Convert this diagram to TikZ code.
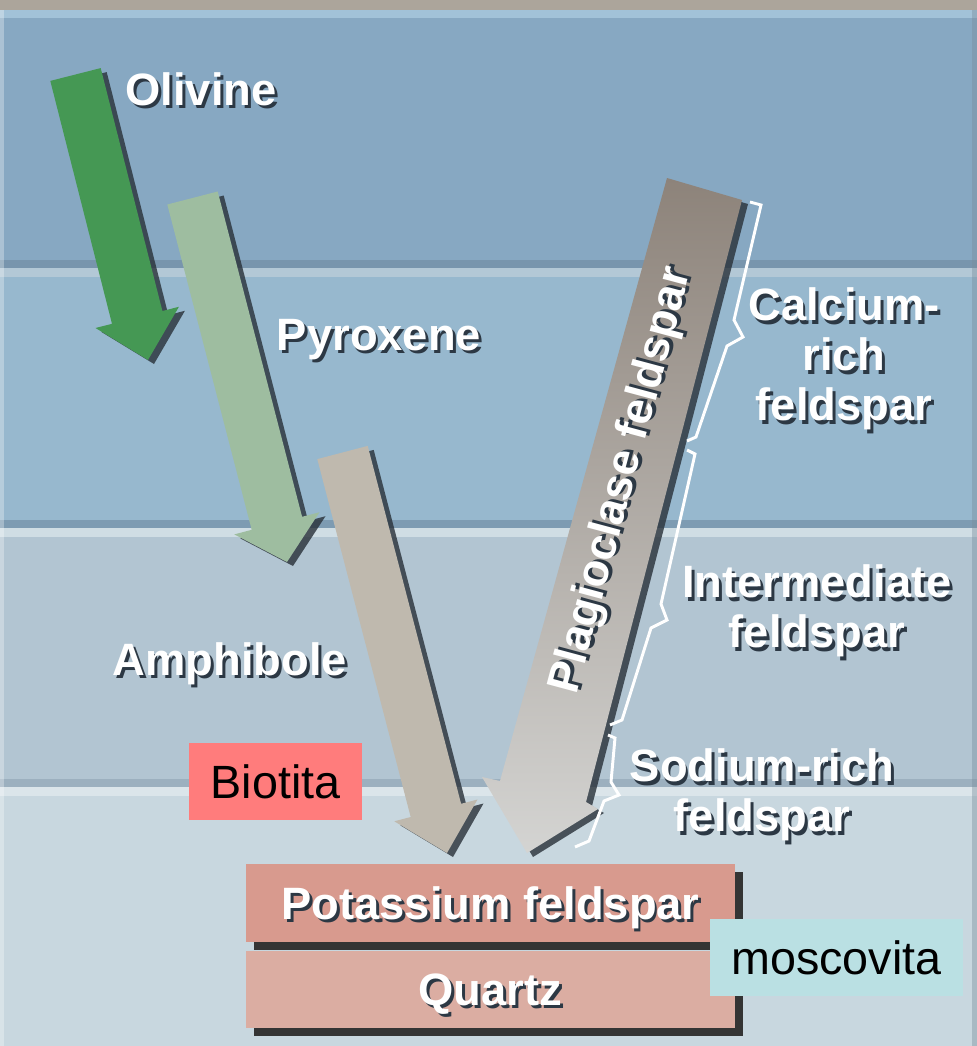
\documentclass[tikz,border=0pt]{standalone}
\usepackage{fontspec}
\setmainfont{Liberation Sans}
\definecolor{txtshadow}{RGB}{44,56,68}
\newcommand{\shtext}[1]{\rlap{\hspace{2.2pt}\raisebox{-2.6pt}{\textcolor{txtshadow}{#1}}}#1}

\begin{document}
\begin{tikzpicture}[x=0.75pt,y=0.75pt,yscale=-1,xscale=1,
  lbl/.style={inner sep=0pt,text=white,font=\fontsize{34}{37.5}\selectfont\bfseries,align=center},
  arrshade/.style={preaction={fill={rgb, 255:red, 40; green, 48; blue, 56 },fill opacity=0.8,transform canvas={shift={(4.5pt,-3pt)}}}},
  brk/.style={color=white,line width=2.2pt,line join=miter},
  boxshade/.style={preaction={fill={rgb, 255:red, 52; green, 52; blue, 52 },transform canvas={shift={(6pt,-6pt)}}}},
  stagebox/.style={inner sep=0pt,minimum width=366.75pt,minimum height=58pt,text height=24pt,text depth=0pt},
  notebox/.style={inner sep=0pt,minimum height=57.75pt,text height=25pt,text depth=0pt,font=\fontsize{35}{40}\selectfont}]
\useasboundingbox (0,0) rectangle (977,1046);
% bands
\fill [color={rgb, 255:red, 172; green, 165; blue, 155 }] (0,0) rectangle (977,10);
\fill [color={rgb, 255:red, 162; green, 194; blue, 216 }] (0,10) rectangle (977,18);
\fill [color={rgb, 255:red, 135; green, 168; blue, 194 }] (0,18) rectangle (977,260);
\fill [color={rgb, 255:red, 120; green, 149; blue, 173 }] (0,260) rectangle (977,268);
\fill [color={rgb, 255:red, 179; green, 200; blue, 214 }] (0,268) rectangle (977,277);
\fill [color={rgb, 255:red, 151; green, 184; blue, 206 }] (0,277) rectangle (977,520);
\fill [color={rgb, 255:red, 125; green, 155; blue, 178 }] (0,520) rectangle (977,528);
\fill [color={rgb, 255:red, 207; green, 221; blue, 228 }] (0,528) rectangle (977,537);
\fill [color={rgb, 255:red, 178; green, 197; blue, 210 }] (0,537) rectangle (977,779);
\fill [color={rgb, 255:red, 156; green, 176; blue, 191 }] (0,779) rectangle (977,787);
\fill [color={rgb, 255:red, 219; green, 229; blue, 234 }] (0,787) rectangle (977,796);
\fill [color={rgb, 255:red, 200; green, 215; blue, 223 }] (0,796) rectangle (977,1046);
\fill [color=white,fill opacity=0.3] (0,10) rectangle (4,1046);
\fill [color={rgb, 255:red, 120; green, 140; blue, 155 },fill opacity=0.4] (972,10) rectangle (977,1046);
% arrows
\draw [arrshade,fill={rgb, 255:red, 158; green, 189; blue, 160 },draw=none] (167.3,204.5) -- (217.7,191.5) -- (302.1,516.8) -- (319.5,512.2) -- (287,562) -- (234.3,534.4) -- (251.7,529.8) -- cycle ;
\draw [arrshade,fill={rgb, 255:red, 69; green, 152; blue, 84 },draw=none] (50.3,80.9) -- (100.7,68.1) -- (162.4,311) -- (178.9,306.8) -- (148,360) -- (95.5,328) -- (112,323.8) -- cycle ;
\draw [arrshade,fill={rgb, 255:red, 191; green, 185; blue, 174 },draw=none] (317.3,459.1) -- (367.7,445.9) -- (461.1,803.8) -- (477.5,799.5) -- (447,853) -- (394.3,821.3) -- (410.7,817) -- cycle ;
\draw [arrshade,top color={rgb, 255:red, 141; green, 131; blue, 122 },bottom color={rgb, 255:red, 212; green, 212; blue, 210 },draw=none] (667,178) -- (742,200) -- (586,802) -- (598,809) -- (527,853) -- (482,777) -- (500,781) -- cycle ;
% braces
\draw [brk] (750,202) -- (761,205) -- (734,320) -- (743,337) -- (727,346) -- (696,437) -- (687,441) ;
\draw [brk] (687,450) -- (695,454) -- (661,604) -- (667,620) -- (651,628) -- (622,720) -- (610,725) ;
\draw [brk] (608,735) -- (615,738) -- (611,782) -- (619,795) -- (604,801) -- (589,841) -- (575,847) ;
% labels
\draw (201,105) node (olivine) [lbl,anchor=base] {\shtext{Olivine}};
\draw (379,350) node (pyroxene) [lbl,anchor=base] {\shtext{Pyroxene}};
\draw (230,675) node (amphibole) [lbl,anchor=base] {\shtext{Amphibole}};
\draw (624,481) node (plag) [lbl,rotate=75] {\shtext{Plagioclase feldspar}};
\draw (844,361) node (calcium) [lbl] {\shtext{Calcium-}\\\shtext{rich}\\\shtext{feldspar}};
\draw (817,613) node (intermed) [lbl] {\shtext{Intermediate}\\\shtext{feldspar}};
\draw (762,797) node (sodium) [lbl] {\shtext{Sodium-rich}\\\shtext{feldspar}};
% end products
\draw (490.5,903) node (potassium) [stagebox,boxshade,fill={rgb, 255:red, 216; green, 154; blue, 142 },lbl] {\shtext{Potassium feldspar}};
\draw (490.5,989.5) node (quartz) [stagebox,boxshade,fill={rgb, 255:red, 219; green, 173; blue, 162 },lbl] {\shtext{Quartz}};
\draw (275.5,781.5) node (biotita) [notebox,minimum width=129.75pt,fill={rgb, 255:red, 255; green, 124; blue, 124 }] {Biotita};
\draw (836.5,957.5) node (moscovita) [notebox,minimum width=189.75pt,fill={rgb, 255:red, 186; green, 224; blue, 227 }] {moscovita};
\end{tikzpicture}
\end{document}
